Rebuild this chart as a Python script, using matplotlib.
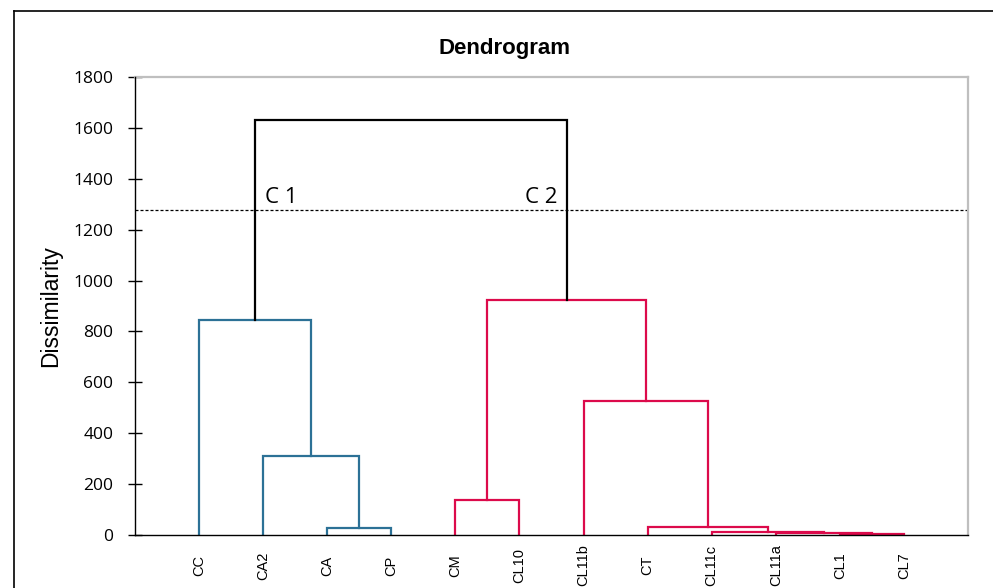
import matplotlib
matplotlib.use("Agg")
import matplotlib.pyplot as plt
from matplotlib.lines import Line2D

# ---- data ----
leaf_labels = ["CC", "CA2", "CA", "CP", "CM", "CL10", "CL11b", "CT",
               "CL11c", "CL11a", "CL1", "CL7"]
# merges: new cluster ids start at len(leaf_labels)
merge_left = [2, 1, 0, 4, 10, 9, 8, 7, 6, 15, 14]
merge_right = [3, 12, 13, 5, 11, 16, 17, 18, 19, 20, 21]
merge_height = [28, 312, 845, 137, 3, 6, 10, 32, 525, 923, 1630]
merge_group = ["C1", "C1", "C1", "C2", "C2", "C2", "C2", "C2", "C2", "C2", "root"]
cut_height = 1278
cluster_names = ["C 1", "C 2"]
y_ticks = [0, 200, 400, 600, 800, 1000, 1200, 1400, 1600, 1800]

group_colors = {"C1": "#2C7196", "C2": "#DC0A4B", "root": "#000000"}

# ---- figure ----
fig = plt.figure(figsize=(9.93, 5.88), dpi=100)
W, H = 993, 588
ax = fig.add_axes([135 / W, 1 - 535 / H, (968 - 135) / W, (535 - 77) / H])

n = len(leaf_labels)
xpos = {i: i + 1 for i in range(n)}
ypos = {i: 0.0 for i in range(n)}
for k, (l, r, h, g) in enumerate(zip(merge_left, merge_right, merge_height, merge_group)):
    cid = n + k
    xl, xr = xpos[l], xpos[r]
    col = group_colors[g]
    ax.plot([xl, xl, xr, xr], [ypos[l], h, h, ypos[r]], color=col, lw=1.6,
            solid_joinstyle="miter", zorder=3)
    xpos[cid] = (xl + xr) / 2
    ypos[cid] = h

ax.axhline(cut_height, color="black", lw=0.9, linestyle=(0, (2.4, 1.6)), zorder=2)

ax.text(2.03, 1305, cluster_names[0], fontsize=16, family="Open Sans", ha="left",
        va="baseline")
ax.text(6.09, 1305, cluster_names[1], fontsize=16, family="Open Sans", ha="left",
        va="baseline")

ax.set_xlim(0, n + 1)
ax.set_ylim(0, 1800)
ax.set_yticks(y_ticks)
ax.set_yticklabels([str(v) for v in y_ticks], family="Open Sans", fontsize=12.5)
ax.tick_params(axis="y", direction="inout", length=9.5, width=1, pad=11)
ax.set_xticks(range(1, n + 1))
ax.set_xticklabels(leaf_labels, rotation=90, family="Liberation Sans", fontsize=10.5,
                   va="center")
ax.tick_params(axis="x", length=0, pad=22)

for s in ["top", "right"]:
    ax.spines[s].set_color("#BFBFBF")
    ax.spines[s].set_linewidth(1.6)
for s in ["left", "bottom"]:
    ax.spines[s].set_color("black")
    ax.spines[s].set_linewidth(1.0)
    ax.spines[s].set_zorder(4)

ax.set_ylabel("Dissimilarity", family="Liberation Sans", fontsize=16.5)
ax.yaxis.set_label_coords((62 - 135) / 833, 0.5)

fig.text(505 / W, 1 - 54 / H, "Dendrogram", family="Liberation Sans",
         fontweight="bold", fontsize=16, ha="center", va="baseline")

# outer chart border (extends beyond the visible area on right/bottom)
fig.add_artist(Line2D([14 / W, 14 / W], [1 - 11 / H, -0.1], color="black", lw=1.2,
                      transform=fig.transFigure))
fig.add_artist(Line2D([14 / W, 1.1], [1 - 11 / H, 1 - 11 / H], color="black", lw=1.2,
                      transform=fig.transFigure))

fig.savefig("out.png", dpi=100)
